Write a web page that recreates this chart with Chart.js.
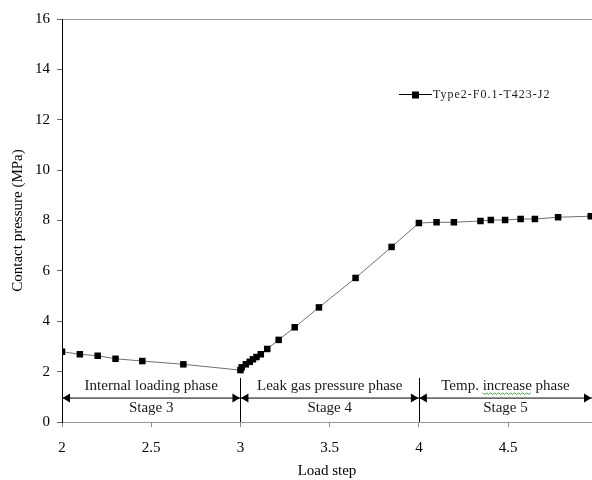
<!DOCTYPE html>
<html>
<head>
<meta charset="utf-8">
<script src="https://cdn.jsdelivr.net/npm/chart.js@4"></script>
<style>
  body { margin: 0; background: #fff; }
  canvas { display: block; }
</style>
</head>
<body>
<canvas id="pressureChart" width="592" height="480"></canvas>
<script>
const loadStep = [2.0, 2.1, 2.2, 2.3, 2.45, 2.68, 3.0, 3.007, 3.03, 3.052, 3.07, 3.09, 3.114, 3.15,
  3.214, 3.304, 3.44, 3.645, 3.847, 4.0, 4.099, 4.196, 4.345, 4.403, 4.483, 4.57, 4.65, 4.78, 4.963];
const pressure = [2.79, 2.69, 2.63, 2.51, 2.42, 2.29, 2.06, 2.17, 2.29, 2.39, 2.49, 2.58, 2.69, 2.90,
  3.26, 3.76, 4.55, 5.72, 6.95, 7.90, 7.93, 7.93, 7.98, 8.02, 8.02, 8.06, 8.06, 8.13, 8.17];
const xTicks = [2, 2.5, 3, 3.5, 4, 4.5];
const phaseBounds = [2, 3, 4, 4.97];
const phaseNames = ['Internal loading phase', 'Leak gas pressure phase', 'Temp. increase phase'];
const stageNames = ['Stage 3', 'Stage 4', 'Stage 5'];
const seriesName = 'Type2-F0.1-T423-J2';

const serif = 'Liberation Serif, Times New Roman, serif';

// phase arrows, divider lines, stage texts and the legend
const phasePlugin = {
  id: 'phases',
  afterDatasetsDraw(chart) {
    const ctx = chart.ctx;
    const xs = chart.scales.x, ys = chart.scales.y;
    const ay = ys.getPixelForValue(0.95);
    const topDiv = ys.getPixelForValue(1.75);
    const bottom = ys.getPixelForValue(0);
    ctx.save();
    ctx.strokeStyle = '#000';
    ctx.fillStyle = '#000';
    ctx.lineWidth = 1;
    for (let i = 0; i < phaseNames.length; i++) {
      const x1 = xs.getPixelForValue(phaseBounds[i]);
      const x2 = Math.min(xs.getPixelForValue(phaseBounds[i + 1]), chart.chartArea.right);
      ctx.beginPath();
      ctx.moveTo(x1, ay);
      ctx.lineTo(x2, ay);
      ctx.stroke();
      // arrowheads
      ctx.beginPath();
      ctx.moveTo(x1 + 0.5, ay);
      ctx.lineTo(x1 + 8, ay - 4.5);
      ctx.lineTo(x1 + 8, ay + 4.5);
      ctx.closePath();
      ctx.fill();
      ctx.beginPath();
      ctx.moveTo(x2 - 0.5, ay);
      ctx.lineTo(x2 - 8, ay - 4.5);
      ctx.lineTo(x2 - 8, ay + 4.5);
      ctx.closePath();
      ctx.fill();
      if (i > 0) {
        ctx.beginPath();
        ctx.moveTo(Math.round(x1) + 0.5, topDiv);
        ctx.lineTo(Math.round(x1) + 0.5, bottom);
        ctx.stroke();
      }
      const cx = (x1 + x2) / 2;
      ctx.font = '15px ' + serif;
      ctx.textAlign = 'center';
      ctx.textBaseline = 'middle';
      ctx.fillStyle = '#1a1a1a';
      ctx.fillText(phaseNames[i], cx, ys.getPixelForValue(1.43));
      ctx.fillText(stageNames[i], cx, ys.getPixelForValue(0.55));
      ctx.fillStyle = '#000';
      if (phaseNames[i].indexOf('increase') >= 0) {
        // spell-check squiggle under "increase"
        const full = ctx.measureText(phaseNames[i]).width;
        const pre = ctx.measureText('Temp. ').width;
        const w = ctx.measureText('increase').width;
        const sx = cx - full / 2 + pre;
        const sy = ys.getPixelForValue(1.43) + 7;
        ctx.strokeStyle = '#3c9a3c';
        ctx.beginPath();
        for (let k = 0; k <= w; k += 2) {
          const yy = sy + ((k / 2) % 2 === 0 ? 0 : 1.5);
          if (k === 0) ctx.moveTo(sx + k, yy); else ctx.lineTo(sx + k, yy);
        }
        ctx.stroke();
        ctx.strokeStyle = '#000';
      }
    }
    // legend
    const lx = 399, ly = 94;
    ctx.beginPath();
    ctx.moveTo(lx, ly + 0.5);
    ctx.lineTo(lx + 33, ly + 0.5);
    ctx.stroke();
    ctx.fillRect(lx + 13, ly - 2.5, 7, 7);
    ctx.font = '12px ' + serif;
    ctx.letterSpacing = '1px';
    ctx.textAlign = 'left';
    ctx.textBaseline = 'middle';
    ctx.fillStyle = '#1a1a1a';
    ctx.fillText(seriesName, lx + 34, ly + 1);
    ctx.restore();
  }
};

const chart = new Chart(document.getElementById('pressureChart').getContext('2d'), {
  type: 'scatter',
  data: {
    datasets: [{
      label: seriesName,
      data: loadStep.map((x, i) => ({ x: x, y: pressure[i] })),
      showLine: true,
      borderColor: '#707070',
      borderWidth: 1,
      pointStyle: 'rect',
      pointRadius: 4.6,
      pointBackgroundColor: '#000',
      pointBorderColor: '#000',
      pointBorderWidth: 0
    }]
  },
  options: {
    responsive: false,
    animation: false,
    layout: { autoPadding: false, padding: { top: 19, right: 0, left: 0, bottom: 0 } },
    plugins: {
      legend: { display: false },
      tooltip: { enabled: false }
    },
    scales: {
      x: {
        type: 'linear',
        min: 2,
        max: 4.97,
        afterBuildTicks: s => { s.ticks = xTicks.map(v => ({ value: v })); },
        afterFit: s => { s.height = 58; s.paddingRight = 0; s.paddingLeft = 0; },
        border: { color: '#999' },
        grid: { drawOnChartArea: false, color: '#888', tickLength: 5 },
        ticks: {
          color: '#000', font: { family: serif, size: 15 }, padding: 12, maxRotation: 0,
          callback: v => String(v)
        },
        title: { display: true, text: 'Load step', color: '#000', font: { family: serif, size: 15 }, padding: { top: 0, bottom: 0 } }
      },
      y: {
        min: 0,
        max: 16,
        afterFit: s => { s.width = 62; },
        border: { color: '#000' },
        grid: {
          color: c => (c.tick && c.tick.value === 16 ? '#999' : 'rgba(0,0,0,0)'),
          tickColor: '#666',
          tickLength: 5
        },
        ticks: { stepSize: 2, color: '#000', font: { family: serif, size: 15 }, padding: 7 },
        title: { display: true, text: 'Contact pressure (MPa)', color: '#000', font: { family: serif, size: 15 }, padding: { top: 9, bottom: 0 } }
      }
    }
  },
  plugins: [phasePlugin]
});
</script>
</body>
</html>
